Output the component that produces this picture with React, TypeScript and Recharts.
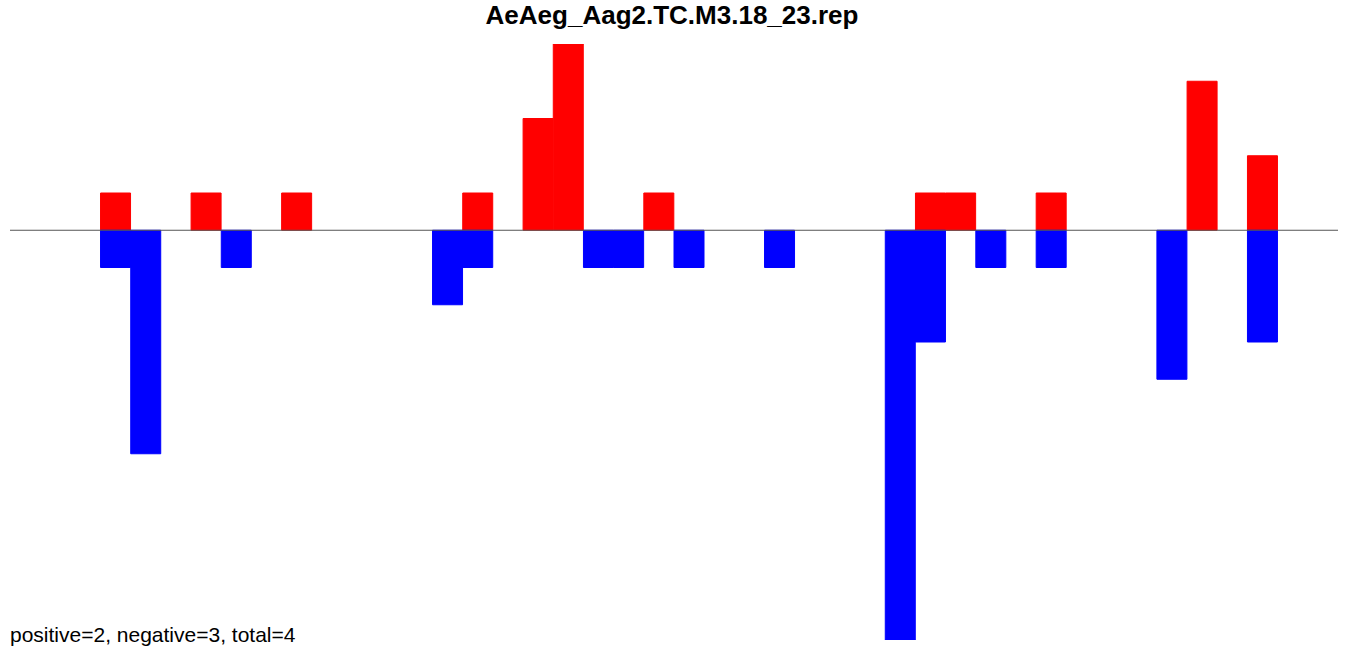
import React from 'react';
import { BarChart, Bar, XAxis, YAxis, ReferenceLine } from 'recharts';

// 44 positions along the sequence
const positions = Array.from({ length: 44 }, (_, i) => i);

const positiveCounts = [
  0, 0, 0, 1, 0, 0, 1, 0, 0, 1, 0,
  0, 0, 0, 0, 1, 0, 3, 5, 0, 0, 1,
  0, 0, 0, 0, 0, 0, 0, 0, 1, 1, 0,
  0, 1, 0, 0, 0, 0, 4, 0, 2, 0, 0,
];

const negativeCounts = [
  0, 0, 0, -1, -6, 0, 0, -1, 0, 0, 0,
  0, 0, 0, -2, -1, 0, 0, 0, -1, -1, 0,
  -1, 0, 0, -1, 0, 0, 0, -11, -3, 0, -1,
  0, -1, 0, 0, 0, -4, 0, 0, -3, 0, 0,
];

const title = 'AeAeg_Aag2.TC.M3.18_23.rep';
const summary = 'positive=2, negative=3, total=4';

const data = positions.map((p, i) => ({
  pos: p,
  positive: positiveCounts[i],
  negative: negativeCounts[i],
}));

export default function App() {
  return (
    <div
      style={{
        position: 'absolute',
        left: 0,
        top: 0,
        width: 1350,
        height: 652,
        background: '#fff',
        fontFamily: '"Liberation Sans", Arial, sans-serif',
      }}
    >
      <BarChart
        width={1350}
        height={652}
        data={data}
        margin={{ top: 44, right: 12, bottom: 12, left: 10 }}
        barCategoryGap={0}
        barGap={0}
        stackOffset="sign"
      >
        <XAxis dataKey="pos" hide />
        <YAxis domain={[-11, 5]} hide allowDataOverflow />
        <Bar
          dataKey="positive"
          stackId="a"
          fill="#ff0000"
          stroke="#ff0000"
          strokeWidth={1}
          isAnimationActive={false}
        />
        <Bar
          dataKey="negative"
          stackId="a"
          fill="#0000ff"
          stroke="#0000ff"
          strokeWidth={1}
          isAnimationActive={false}
        />
        <ReferenceLine y={0} stroke="#555" strokeWidth={1} />
      </BarChart>
      {/* title and summary line on top of the chart */}
      <svg
        width={1350}
        height={652}
        style={{ position: 'absolute', left: 0, top: 0, pointerEvents: 'none' }}
      >
        <text
          x={672}
          y={24}
          textAnchor="middle"
          fontWeight="bold"
          fontSize={26}
          fontFamily='"Liberation Sans", Arial, sans-serif'
          fill="#000"
        >
          {title}
        </text>
        <text
          x={10}
          y={642}
          fontSize={21}
          fontFamily='"Liberation Sans", Arial, sans-serif'
          fill="#000"
        >
          {summary}
        </text>
      </svg>
    </div>
  );
}
